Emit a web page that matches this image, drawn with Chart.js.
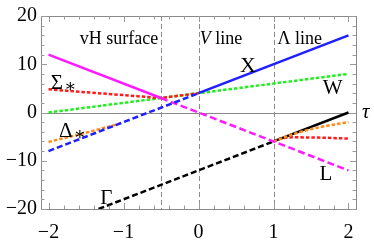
<!DOCTYPE html>
<html><head><meta charset="utf-8">
<script src="https://cdn.jsdelivr.net/npm/chart.js@4"></script>
<style>html,body{margin:0;padding:0;background:#fff;}</style>
</head><body>
<canvas id="c" width="374" height="243"></canvas>
<script>
// ---- data ----
const xTicks = [-2, -1, 0, 1, 2];
const yTicks = [-20, -10, 0, 10, 20];
const regionLinesX = [-0.5, 0, 1];

const L_solid_x = [-2, -0.5],  L_solid_y = [12, 3];
const L_dash_x  = [-0.5, 2],   L_dash_y  = [3, -12];
const X_dash_x  = [-2, 0],     X_dash_y  = [-8, 4];
const X_solid_x = [0, 2],      X_solid_y = [4, 16];
const W_x       = [-2, 2],     W_y       = [0, 8];
const SigL_x    = [-2, -0.5, 0],            SigL_y = [4.8, 3, 4];
const SigR_x    = [1, 1.1, 1.25, 1.6, 2],   SigR_y = [-6, -5.4, -5.15, -5.2, -5.4];
const DelL_x    = [-2, -1.5, -1.05],        DelL_y = [-6.1, -4.2, -2.3];
const DelR_x    = [1, 1.3, 1.6, 2],         DelR_y = [-6, -4.3, -3.1, -2];
const G_dash_x  = [-1.3333, 1], G_dash_y = [-20, -6];
const G_solid_x = [1, 2],       G_solid_y = [-6, 0];

const pts = (xs, ys) => xs.map((x, i) => ({x, y: ys[i]}));

function ds(xs, ys, color, dash, extra) {
  return Object.assign({
    data: pts(xs, ys), borderColor: color, borderWidth: 2.5,
    borderDash: dash, pointRadius: 0, fill: false, tension: 0,
    borderCapStyle: 'butt'
  }, extra || {});
}

const BLUE = '#1f1fff', MAG = '#ff1aff', RED = '#ff1a1a', GREEN = '#22ee22', ORANGE = '#ff8c1a', BLACK = '#000';
const DOT = [3.5, 2], DASH = [6, 3];

const datasets = [
  ds(X_solid_x, X_solid_y, BLUE, []),
  ds(X_dash_x, X_dash_y, BLUE, DASH),
  ds(L_solid_x, L_solid_y, MAG, []),
  ds(L_dash_x, L_dash_y, MAG, [7, 3.5]),
  ds(DelR_x, DelR_y, ORANGE, DOT, {cubicInterpolationMode: 'monotone'}),
  ds(DelL_x, DelL_y, ORANGE, DOT),
  ds(G_solid_x, G_solid_y, BLACK, []),
  ds(G_dash_x, G_dash_y, BLACK, DASH),
  ds(SigR_x, SigR_y, RED, DOT, {cubicInterpolationMode: 'monotone'}),
  ds(SigL_x, SigL_y, RED, DOT),
  ds(W_x, W_y, GREEN, DOT)
];

// ---- annotations (data coordinates) ----
const SERIF = '"Liberation Serif", "DejaVu Serif", serif';
const annotations = [
  {t: 'vH surface', x: -1.06, y: 14.3, size: 18},
  {t: 'line', x: 0.3, y: 14.3, size: 18, pre: 'V'},
  {t: 'Λ line', x: 1.35, y: 14.3, size: 18},
  {t: 'X', x: 0.66, y: 8.3, size: 22},
  {t: 'W', x: 1.79, y: 3.9, size: 21},
  {t: 'L', x: 1.7, y: -14.0, size: 21},
  {t: 'Γ', x: -1.23, y: -18.9, size: 21},
  {t: 'Σ', x: -1.97, y: 4.9, size: 21, sub: '∗'},
  {t: 'Δ', x: -1.86, y: -5.0, size: 21, sub: '∗'}
];

const frameTicks = {
  id: 'frameTicks',
  beforeDatasetsDraw(chart) {
    const {ctx, chartArea: a, scales: {x, y}} = chart;
    ctx.save();
    ctx.strokeStyle = '#8a8a8a';
    ctx.lineWidth = 1;
    const y0 = Math.round(y.getPixelForValue(0)) + 0.5;
    ctx.beginPath(); ctx.moveTo(a.left, y0); ctx.lineTo(a.right, y0); ctx.stroke();
    ctx.setLineDash([5, 3]);
    ctx.strokeStyle = '#8a8a8a';
    regionLinesX.forEach(v => {
      const px = Math.round(x.getPixelForValue(v)) + 0.5;
      ctx.beginPath(); ctx.moveTo(px, a.top); ctx.lineTo(px, a.bottom); ctx.stroke();
    });
    ctx.restore();
  },
  afterDatasetsDraw(chart) {
    const {ctx, chartArea: a, scales: {x, y}} = chart;
    ctx.save();
    ctx.strokeStyle = '#8a8a8a';
    ctx.lineWidth = 1;
    ctx.strokeRect(Math.round(a.left) + 0.5, Math.round(a.top) + 0.5,
                   Math.round(a.right - a.left), Math.round(a.bottom - a.top));
    ctx.strokeStyle = '#9a9a9a';
    for (let i = -20; i <= 20; i += 2) {
      const v = i / 10;
      const major = i % 10 === 0;
      const len = major ? 6 : 3.5;
      const px = Math.round(x.getPixelForValue(v)) + 0.5;
      ctx.beginPath();
      ctx.moveTo(px, a.bottom); ctx.lineTo(px, a.bottom - len);
      ctx.moveTo(px, a.top); ctx.lineTo(px, a.top + len);
      ctx.stroke();
    }
    for (let v = -20; v <= 20; v += 2) {
      const major = v % 10 === 0;
      const len = major ? 6 : 3.5;
      const py = Math.round(y.getPixelForValue(v)) + 0.5;
      ctx.beginPath();
      ctx.moveTo(a.left, py); ctx.lineTo(a.left + len, py);
      ctx.moveTo(a.right, py); ctx.lineTo(a.right - len, py);
      ctx.stroke();
    }
    ctx.fillStyle = '#000';
    ctx.textBaseline = 'alphabetic';
    annotations.forEach(an => {
      const px = x.getPixelForValue(an.x), py = y.getPixelForValue(an.y);
      ctx.font = an.size + 'px ' + SERIF;
      if (an.pre) {
        ctx.font = 'italic ' + an.size + 'px ' + SERIF;
        const wPre = ctx.measureText(an.pre + ' ').width;
        ctx.font = an.size + 'px ' + SERIF;
        const wT = ctx.measureText(an.t).width;
        const start = px - (wPre + wT) / 2;
        ctx.textAlign = 'left';
        ctx.font = 'italic ' + an.size + 'px ' + SERIF;
        ctx.fillText(an.pre, start, py);
        ctx.font = an.size + 'px ' + SERIF;
        ctx.fillText(an.t, start + wPre, py);
      } else if (an.sub) {
        ctx.textAlign = 'left';
        ctx.fillText(an.t, px, py);
        const w = ctx.measureText(an.t).width;
        ctx.font = Math.round(an.size * 0.85) + 'px ' + SERIF;
        ctx.fillText(an.sub, px + w + 1, py + 3);
      } else {
        ctx.textAlign = 'center';
        ctx.fillText(an.t, px, py);
      }
    });
    ctx.font = 'italic 21px ' + SERIF;
    ctx.textAlign = 'left';
    ctx.fillText('τ', a.right + 6, y.getPixelForValue(0) + 5);
    ctx.restore();
  }
};

const minusFmt = v => (v < 0 ? '\u2212' + Math.abs(v) : String(v));

new Chart(document.getElementById('c'), {
  type: 'line',
  data: {datasets},
  options: {
    responsive: false,
    animation: false,
    events: [],
    layout: {padding: {top: 15, right: 18, left: 0, bottom: 0}},
    plugins: {legend: {display: false}, tooltip: {enabled: false}},
    scales: {
      x: {
        type: 'linear', min: -2.1, max: 2.1,
        afterBuildTicks: s => { s.ticks = xTicks.map(v => ({value: v})); },
        afterFit: s => { s.height = 34; },
        grid: {display: false, drawTicks: false},
        border: {display: false},
        ticks: {font: {family: SERIF, size: 20}, color: '#000', padding: 12, maxRotation: 0, autoSkip: false, callback: minusFmt}
      },
      y: {
        type: 'linear', min: -20, max: 20,
        afterBuildTicks: s => { s.ticks = yTicks.map(v => ({value: v})); },
        afterFit: s => { s.width = 41; },
        grid: {display: false, drawTicks: false},
        border: {display: false},
        ticks: {font: {family: SERIF, size: 20}, color: '#000', padding: 4, autoSkip: false, callback: minusFmt}
      }
    }
  },
  plugins: [frameTicks]
});
</script>
</body></html>
